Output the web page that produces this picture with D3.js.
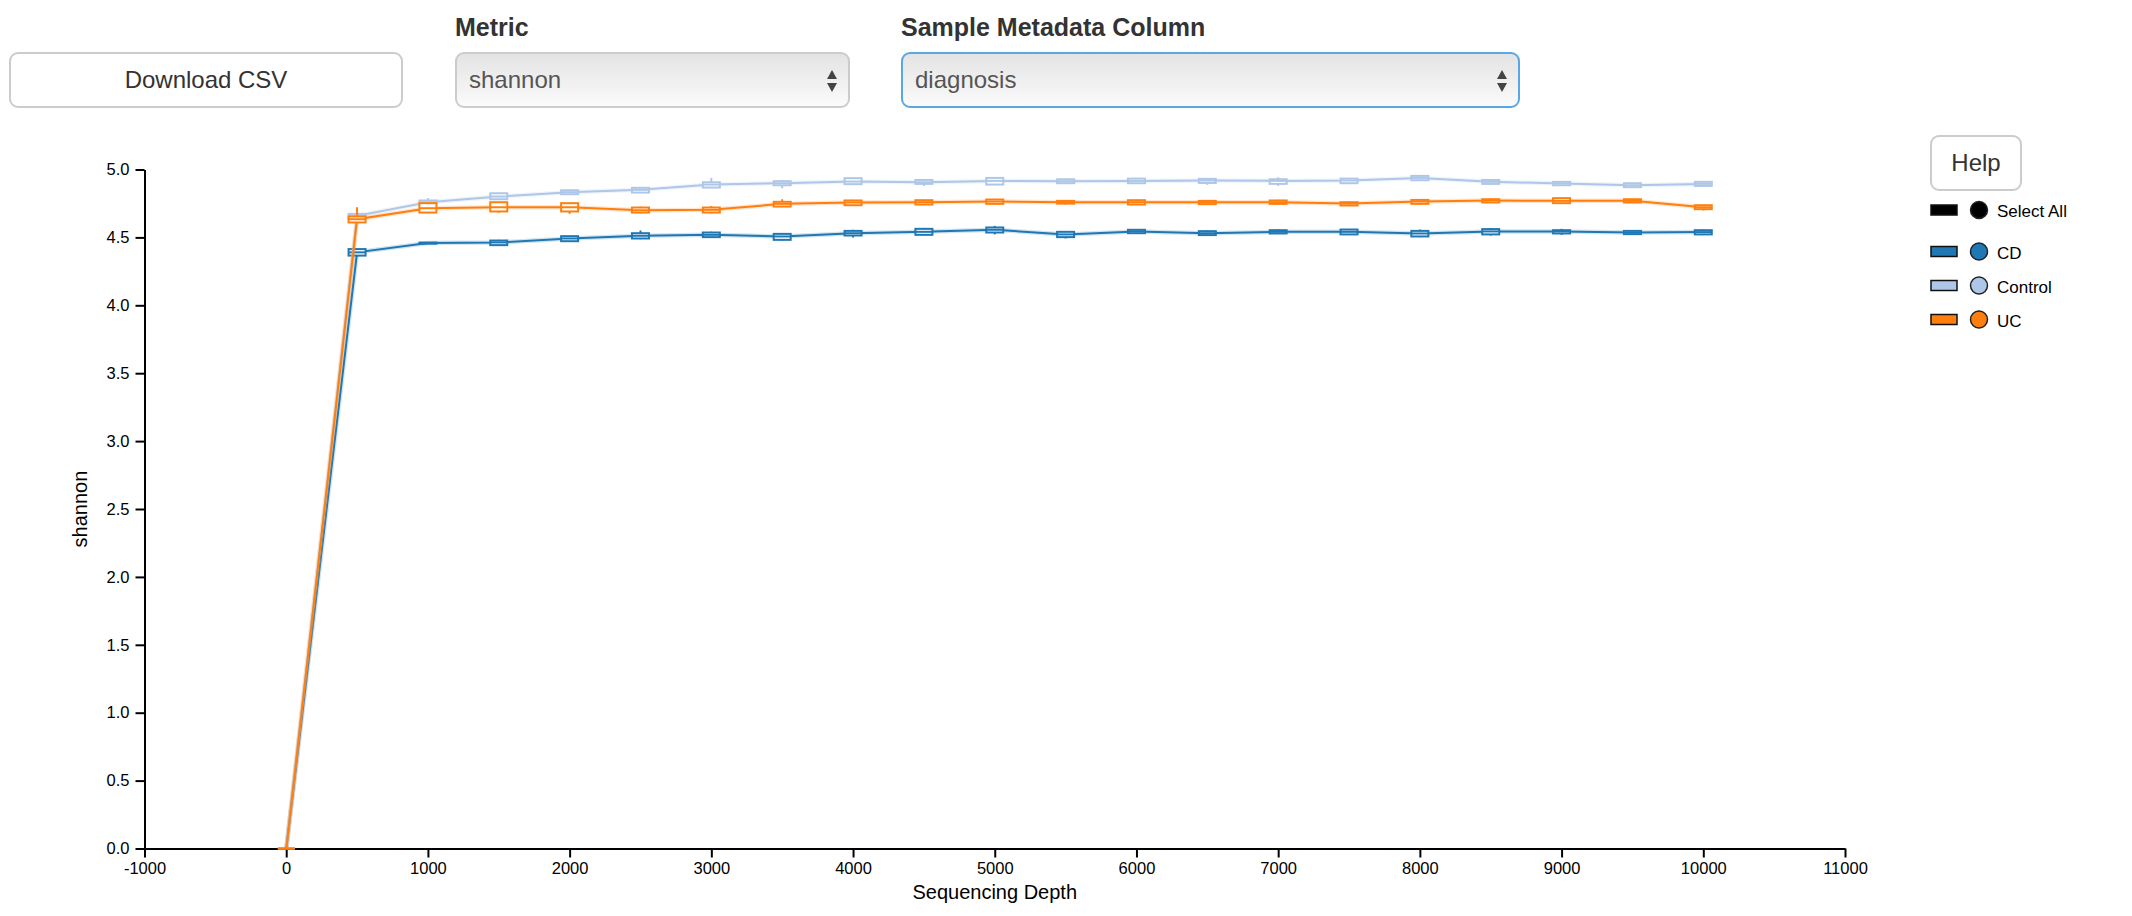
<!DOCTYPE html>
<html>
<head>
<meta charset="utf-8">
<script src="https://cdn.jsdelivr.net/npm/d3@7"></script>
<style>
  html, body { margin: 0; padding: 0; background: #fff; }
  svg { display: block; font-family: "Liberation Sans", Arial, Helvetica, sans-serif; }
</style>
</head>
<body>
<svg id="chart" width="2132" height="916"></svg>
<script>
// ---------- data ----------
const depths = [1, 500, 1000, 1500, 2000, 2500, 3000, 3500, 4000, 4500, 5000,
                5500, 6000, 6500, 7000, 7500, 8000, 8500, 9000, 9500, 10000];
const groups = ["CD", "Control", "UC"];
const groupColors = ["#1f77b4", "#aec7e8", "#ff7f0e"];

const cdMedian  = [0, 4.390, 4.458, 4.463, 4.492, 4.512, 4.519, 4.507, 4.531, 4.541, 4.556, 4.522, 4.544, 4.531, 4.541, 4.541, 4.529, 4.544, 4.544, 4.536, 4.539];
const cdQ1      = [0, 4.366, 4.454, 4.443, 4.472, 4.492, 4.502, 4.482, 4.514, 4.519, 4.536, 4.502, 4.531, 4.517, 4.529, 4.522, 4.507, 4.522, 4.529, 4.524, 4.522];
const cdQ3      = [0, 4.414, 4.462, 4.477, 4.509, 4.531, 4.536, 4.526, 4.548, 4.563, 4.573, 4.541, 4.556, 4.546, 4.553, 4.558, 4.548, 4.561, 4.553, 4.548, 4.553];
const cdMin     = [0, 4.358, 4.452, 4.437, 4.467, 4.487, 4.497, 4.477, 4.499, 4.517, 4.522, 4.492, 4.527, 4.512, 4.527, 4.517, 4.502, 4.514, 4.519, 4.522, 4.517];
const cdMax     = [0, 4.417, 4.464, 4.482, 4.512, 4.551, 4.542, 4.532, 4.556, 4.570, 4.585, 4.547, 4.562, 4.550, 4.557, 4.562, 4.558, 4.568, 4.563, 4.551, 4.557];

const ctlMedian = [0, 4.659, 4.759, 4.801, 4.833, 4.850, 4.889, 4.899, 4.911, 4.906, 4.916, 4.914, 4.916, 4.919, 4.916, 4.919, 4.938, 4.909, 4.897, 4.884, 4.894];
const ctlQ1     = [0, 4.639, 4.747, 4.781, 4.818, 4.830, 4.867, 4.884, 4.892, 4.894, 4.889, 4.899, 4.899, 4.901, 4.894, 4.899, 4.921, 4.894, 4.884, 4.870, 4.879];
const ctlQ3     = [0, 4.673, 4.772, 4.825, 4.847, 4.865, 4.906, 4.914, 4.936, 4.923, 4.938, 4.928, 4.933, 4.931, 4.928, 4.933, 4.953, 4.923, 4.909, 4.899, 4.909];
const ctlMin    = [0, 4.637, 4.742, 4.777, 4.815, 4.827, 4.862, 4.862, 4.887, 4.879, 4.887, 4.897, 4.897, 4.887, 4.879, 4.897, 4.917, 4.892, 4.882, 4.867, 4.877];
const ctlMax    = [0, 4.677, 4.789, 4.829, 4.850, 4.869, 4.938, 4.923, 4.940, 4.927, 4.942, 4.932, 4.937, 4.936, 4.943, 4.937, 4.957, 4.929, 4.912, 4.902, 4.912];

const ucMedian  = [0, 4.634, 4.715, 4.722, 4.722, 4.700, 4.703, 4.747, 4.757, 4.759, 4.764, 4.759, 4.759, 4.759, 4.759, 4.749, 4.764, 4.772, 4.769, 4.769, 4.722];
const ucQ1      = [0, 4.610, 4.683, 4.691, 4.691, 4.683, 4.683, 4.727, 4.737, 4.742, 4.747, 4.749, 4.742, 4.745, 4.747, 4.735, 4.747, 4.757, 4.752, 4.757, 4.708];
const ucQ3      = [0, 4.654, 4.752, 4.759, 4.752, 4.720, 4.720, 4.762, 4.772, 4.774, 4.779, 4.769, 4.774, 4.769, 4.772, 4.759, 4.776, 4.781, 4.789, 4.781, 4.737];
const ucMin     = [0, 4.607, 4.677, 4.682, 4.673, 4.677, 4.677, 4.725, 4.732, 4.737, 4.742, 4.742, 4.737, 4.742, 4.742, 4.732, 4.742, 4.754, 4.747, 4.754, 4.698];
const ucMax     = [0, 4.722, 4.757, 4.762, 4.755, 4.727, 4.732, 4.781, 4.777, 4.777, 4.782, 4.772, 4.777, 4.772, 4.777, 4.765, 4.779, 4.787, 4.792, 4.784, 4.740];

const xTicks = [-1000, 0, 1000, 2000, 3000, 4000, 5000, 6000, 7000, 8000, 9000, 10000, 11000];
const yTicks = [0, 0.5, 1.0, 1.5, 2.0, 2.5, 3.0, 3.5, 4.0, 4.5, 5.0];

const metricLabel = "Metric";
const metricValue = "shannon";
const columnLabel = "Sample Metadata Column";
const columnValue = "diagnosis";
const xLabel = "Sequencing Depth";
const yLabel = "shannon";

// ---------- build series ----------
const seriesStats = [
  { median: cdMedian,  q1: cdQ1,  q3: cdQ3,  min: cdMin,  max: cdMax },
  { median: ctlMedian, q1: ctlQ1, q3: ctlQ3, min: ctlMin, max: ctlMax },
  { median: ucMedian,  q1: ucQ1,  q3: ucQ3,  min: ucMin,  max: ucMax }
];
const series = groups.map((g, gi) => ({
  name: g,
  color: groupColors[gi],
  points: depths.map((d, i) => ({
    depth: d,
    median: seriesStats[gi].median[i],
    q1: seriesStats[gi].q1[i],
    q3: seriesStats[gi].q3[i],
    min: seriesStats[gi].min[i],
    max: seriesStats[gi].max[i]
  }))
}));

// ---------- svg ----------
const svg = d3.select("#chart");
const defs = svg.append("defs");
const grad = defs.append("linearGradient").attr("id", "selGrad")
  .attr("x1", 0).attr("y1", 0).attr("x2", 0).attr("y2", 1);
grad.append("stop").attr("offset", "0%").attr("stop-color", "#e3e3e3");
grad.append("stop").attr("offset", "100%").attr("stop-color", "#fbfbfb");

// ---------- controls ----------
const ctrl = svg.append("g");
ctrl.append("rect").attr("x", 10).attr("y", 53).attr("width", 392).attr("height", 54)
  .attr("rx", 8).attr("fill", "#fff").attr("stroke", "#cccccc").attr("stroke-width", 2);
ctrl.append("text").attr("x", 206).attr("y", 88).attr("text-anchor", "middle")
  .attr("font-size", 24).attr("fill", "#333").text("Download CSV");

function selectBox(x, w, label, value, stroke) {
  ctrl.append("text").attr("x", x).attr("y", 36).attr("font-size", 25)
    .attr("font-weight", "bold").attr("fill", "#333").text(label);
  ctrl.append("rect").attr("x", x + 1).attr("y", 53).attr("width", w - 2).attr("height", 54)
    .attr("rx", 8).attr("fill", "url(#selGrad)").attr("stroke", stroke).attr("stroke-width", 2);
  ctrl.append("text").attr("x", x + 14).attr("y", 88).attr("font-size", 24)
    .attr("fill", "#555").text(value);
  const ax = x + w - 18;
  ctrl.append("path").attr("d", `M${ax - 5},${79} L${ax + 5},${79} L${ax},${70} Z`).attr("fill", "#444");
  ctrl.append("path").attr("d", `M${ax - 5},${83} L${ax + 5},${83} L${ax},${92} Z`).attr("fill", "#444");
}
selectBox(455, 395, metricLabel, metricValue, "#cccccc");
selectBox(901, 619, columnLabel, columnValue, "#5aa7e4");

ctrl.append("rect").attr("x", 1931).attr("y", 136).attr("width", 90).attr("height", 54)
  .attr("rx", 8).attr("fill", "#fff").attr("stroke", "#cccccc").attr("stroke-width", 2);
ctrl.append("text").attr("x", 1976).attr("y", 171).attr("text-anchor", "middle")
  .attr("font-size", 24).attr("fill", "#333").text("Help");

// ---------- scales ----------
const x = d3.scaleLinear().domain([-1000, 11000]).range([144.5, 1845]);
const y = d3.scaleLinear().domain([0, 5]).range([848.5, 169.5]);

const xAxis = svg.append("g").attr("transform", `translate(0,${y(0)})`)
  .call(d3.axisBottom(x).tickValues(xTicks).tickSize(9).tickPadding(5).tickSizeOuter(0)
    .tickFormat(d => String(d)));
const yAxis = svg.append("g").attr("transform", `translate(${x(-1000)},0)`)
  .call(d3.axisLeft(y).tickValues(yTicks).tickSize(9).tickPadding(6).tickSizeOuter(0)
    .tickFormat(d => d.toFixed(1)));
[xAxis, yAxis].forEach(a => {
  a.selectAll("path, line").attr("stroke", "#000").attr("stroke-width", 2);
  a.selectAll("text").attr("font-size", 16.5).attr("fill", "#000")
    .attr("font-family", "\"Liberation Sans\", Arial, sans-serif");
});

svg.append("text").attr("x", (x(-1000) + x(11000)) / 2).attr("y", 899)
  .attr("text-anchor", "middle").attr("font-size", 20).attr("fill", "#000").text(xLabel);
svg.append("text").attr("transform", `translate(87,${y(2.5)}) rotate(-90)`)
  .attr("text-anchor", "middle").attr("font-size", 20).attr("fill", "#000").text(yLabel);

// ---------- series ----------
const boxW = 17;
const line = d3.line().x(d => x(d.depth)).y(d => y(d.median));
const plot = svg.append("g");
series.forEach(s => {
  const g = plot.append("g");
  g.append("path").datum(s.points).attr("d", line).attr("fill", "none")
    .attr("stroke", s.color).attr("stroke-width", 4.5).attr("stroke-opacity", 0.2);
  g.append("path").datum(s.points).attr("d", line).attr("fill", "none")
    .attr("stroke", s.color).attr("stroke-width", 2);
  const b = g.selectAll("g.box").data(s.points).join("g").attr("class", "box");
  b.append("line").attr("x1", d => x(d.depth)).attr("x2", d => x(d.depth))
    .attr("y1", d => y(d.max)).attr("y2", d => y(d.min))
    .attr("stroke", s.color).attr("stroke-width", 2);
  b.append("rect").attr("x", d => x(d.depth) - boxW / 2).attr("width", boxW)
    .attr("y", d => y(d.q3)).attr("height", d => Math.max(0, y(d.q1) - y(d.q3)))
    .attr("fill", "#fff").attr("stroke", s.color).attr("stroke-width", 2);
  b.append("line").attr("x1", d => x(d.depth) - boxW / 2).attr("x2", d => x(d.depth) + boxW / 2)
    .attr("y1", d => y(d.median)).attr("y2", d => y(d.median))
    .attr("stroke", s.color).attr("stroke-width", 2);
});

// ---------- legend ----------
const legendItems = [{ name: "Select All", color: "#000" }]
  .concat(groups.map((g, i) => ({ name: g, color: groupColors[i] })));
const legendY = [210, 251.5, 285.5, 319.5];
const lg = svg.append("g");
legendItems.forEach((it, i) => {
  const cy = legendY[i];
  lg.append("rect").attr("x", 1931).attr("y", cy - 5).attr("width", 26).attr("height", 10)
    .attr("fill", it.color).attr("stroke", "#111").attr("stroke-width", 1.5);
  lg.append("circle").attr("cx", 1979).attr("cy", cy).attr("r", 8.5)
    .attr("fill", it.color).attr("stroke", "#222").attr("stroke-width", 1.5);
  lg.append("text").attr("x", 1997).attr("y", cy + 7).attr("font-size", 17)
    .attr("fill", "#000").text(it.name);
});
</script>
</body>
</html>
